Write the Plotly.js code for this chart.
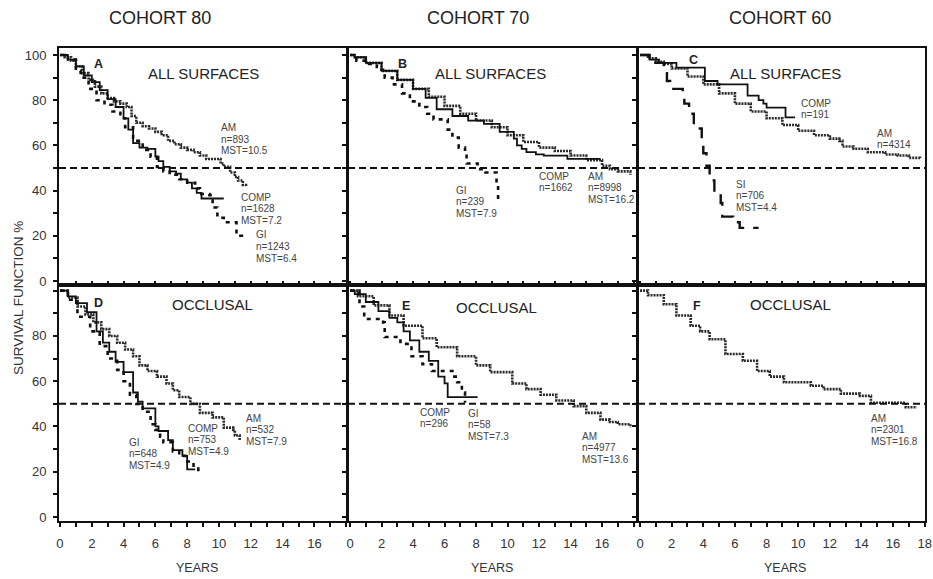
<!DOCTYPE html>
<html>
<head>
<meta charset="utf-8">
<script src="https://cdn.plot.ly/plotly-3.0.1.min.js"></script>
<style>html,body{margin:0;padding:0;background:#fff;}#chart{width:933px;height:579px;}</style>
</head>
<body>
<div id="chart"></div>
<script>
// ---------- data ----------
// Panel A: cohort 80, all surfaces
var amA_x   = [0, 0.3, 0.7, 1.0, 1.4, 1.8, 2.2, 2.6, 3.0, 3.4, 3.8, 4.2, 4.5, 4.8, 5.2, 5.6, 6.0, 6.4, 6.8, 7.2, 7.6, 8.0, 8.4, 8.8, 9.2, 10.1, 10.3, 10.7, 11.0, 11.2, 11.5, 11.7];
var amA_y   = [100, 99, 97.5, 95, 92, 89, 86, 83, 81, 79.5, 78.5, 77, 73, 70, 68.5, 67.5, 66, 64.5, 62, 60.5, 59, 58, 57, 55.5, 54, 52, 50.5, 48, 46, 44.5, 42.5, 42];
var compA_x = [0, 0.5, 1.0, 1.5, 2.0, 2.5, 3.0, 3.5, 4.0, 4.3, 4.6, 5.0, 5.5, 6.0, 6.2, 6.5, 6.9, 7.3, 7.6, 8.0, 8.3, 8.6, 8.9, 10.3];
var compA_y = [100, 98, 95, 91, 88, 84.5, 80.5, 77, 72, 67, 61, 59, 58.5, 55, 53, 50.5, 48.5, 47.5, 45, 43.5, 41, 39, 36.5, 36.5];
var giA_x   = [0, 0.5, 1.0, 1.3, 1.8, 2.3, 2.8, 3.3, 3.8, 4.1, 4.6, 5.2, 5.7, 6.1, 6.5, 6.9, 7.5, 8.0, 8.5, 8.8, 9.4, 9.6, 9.9, 10.3, 11.0, 11.1, 11.7];
var giA_y   = [100, 98, 93, 90, 85, 80, 78, 75, 72, 68, 62, 58, 55, 50.5, 48.5, 47, 45, 43.5, 41, 38.5, 38, 32.5, 28, 26, 26, 20, 19.5];
// Panel B: cohort 70, all surfaces
var amB_x   = [0, 0.3, 1, 2, 3, 4, 5, 6, 7, 8, 9, 10, 11, 12, 13, 14, 15, 16, 16.5, 17, 17.8];
var amB_y   = [100, 99, 96.5, 93, 89, 85, 81.5, 77.5, 74, 71, 68, 64.5, 61.5, 59, 57.5, 55.5, 53.5, 51, 49.5, 48.5, 47];
var compB_x = [0, 0.3, 1, 2, 3, 4, 4.8, 5.5, 6.5, 7.5, 8.5, 9.5, 10.4, 10.6, 10.9, 11.2, 11.8, 12.3, 13.5, 13.8, 15.9];
var compB_y = [100, 99, 96.5, 93, 89, 85, 81, 76, 73, 71, 69.5, 66, 63, 60, 58.5, 57, 56, 55.5, 55.5, 54, 54];
var giB_x   = [0, 0.4, 1.0, 1.7, 2.2, 2.7, 3.3, 3.8, 4.4, 4.9, 5.3, 6.2, 6.5, 6.9, 7.3, 7.4, 8.1, 8.6, 9.3, 9.4];
var giB_y   = [100, 97.5, 96, 93.5, 90, 87, 83, 79.5, 77, 74, 71.5, 67, 63.5, 59, 57, 52, 49.5, 48, 41.5, 36];
// Panel C: cohort 60, all surfaces
var amC_x   = [0, 0.5, 1, 1.5, 2, 3, 4, 5, 6, 7, 8, 9, 10, 11, 12, 12.6, 12.8, 13.5, 14.4, 15.5, 16.3, 17, 17.7];
var amC_y   = [100, 98.5, 97, 96, 94, 90.5, 87, 83, 78.5, 75, 72, 69, 66.5, 64.5, 63, 62, 59.5, 58.5, 57, 56, 55.5, 54.5, 54];
var compC_x = [0, 0.6, 1.2, 2.3, 4.1, 4.9, 6.8, 7.5, 7.8, 8.0, 9.2, 9.8];
var compC_y = [100, 98, 96.5, 94.4, 88.5, 87, 82, 80, 78.5, 76.7, 72.4, 72.4];
var siC_x   = [0, 0.6, 1.5, 1.7, 1.9, 2.7, 2.8, 3.1, 3.4, 3.9, 4.0, 4.2, 4.4, 4.7, 5.1, 5.2, 5.9, 6.3, 7.5];
var siC_y   = [100, 96.5, 92, 88.5, 85, 82, 78.5, 74, 67.5, 62, 56.5, 51, 44.5, 39, 34.5, 28.5, 26, 23.5, 23.5];
// Panel D: cohort 80, occlusal
var amD_x   = [0, 0.5, 1.1, 1.6, 2.1, 2.6, 3.1, 3.6, 4.1, 4.6, 5.0, 5.5, 6.1, 6.7, 7.1, 7.5, 8.2, 8.8, 9.6, 10.2, 10.3, 10.9, 11.0, 11.3];
var amD_y   = [100, 97, 93, 89.5, 86, 83, 80, 77, 74, 71, 67, 64.5, 62, 59, 56, 53, 50, 46, 44, 44, 39.5, 38.5, 36, 34];
var compD_x = [0, 0.5, 1.0, 1.7, 2.3, 2.7, 3.1, 3.5, 4.0, 4.6, 4.9, 5.2, 6.0, 6.2, 6.8, 7.1, 7.7, 8.0, 8.5];
var compD_y = [100, 97.5, 94.5, 90.5, 82, 77, 73, 68.5, 64, 55, 51, 48, 40, 38, 34, 29.5, 27, 21, 21];
var giD_x   = [0, 0.5, 1.1, 1.9, 2.5, 3.0, 3.6, 4.0, 4.4, 4.8, 5.2, 5.7, 6.0, 6.3, 6.5, 7.1, 7.5, 8.0, 8.4, 8.7];
var giD_y   = [100, 96, 88.5, 82, 75.5, 70, 65, 60, 54, 50, 46.5, 41, 38.5, 35.5, 33, 29, 27, 24.5, 22, 20];
// Panel E: cohort 70, occlusal
var amE_x   = [0, 0.5, 1.5, 2.5, 3.4, 4.6, 5.5, 6.8, 8, 8.9, 10.3, 11.2, 12.1, 13.1, 14.2, 15, 15.9, 16.5, 17, 17.8];
var amE_y   = [100, 97.5, 93.5, 89, 84.5, 79, 75, 71, 67, 64, 59, 56.5, 54, 51.5, 49, 46, 43, 42, 41, 39.5];
var compE_x = [0, 0.3, 1, 1.8, 2.5, 3.0, 3.4, 3.8, 4.4, 5.0, 5.6, 6.0, 6.2, 8.1];
var compE_y = [100, 98.5, 95, 91, 88, 86, 82, 78, 73, 69, 62, 59, 53, 53];
var giE_x   = [0, 0.6, 0.9, 2.1, 2.2, 3.2, 3.9, 4.6, 5.2, 6.2, 6.5, 6.8, 7.1, 7.3];
var giE_y   = [100, 93, 87.5, 86, 79.5, 76.5, 71, 67.5, 64.5, 64.5, 62, 59.5, 55, 50.5];
// Panel F: cohort 60, occlusal
var amF_x   = [0, 0.5, 1.5, 2.3, 3.2, 3.8, 4.4, 5.4, 6.5, 7.4, 8.2, 9.1, 10.8, 11.6, 12.7, 13.9, 14.6, 16.6, 16.8, 17.5];
var amF_y   = [100, 98, 94, 89, 84.5, 82, 78.5, 72, 69, 64.5, 62, 59.5, 58, 56.5, 54.5, 53.5, 50.5, 50.5, 48.5, 48.5];

var medianLevel = 50;
var cohortTitles = ["COHORT 80", "COHORT 70", "COHORT 60"];
var panelLetters = ["A", "B", "C", "D", "E", "F"];
var panelNames = ["ALL SURFACES", "ALL SURFACES", "ALL SURFACES", "OCCLUSAL", "OCCLUSAL", "OCCLUSAL"];
var labelsA = [["AM", "n=893", "MST=10.5"], ["COMP", "n=1628", "MST=7.2"], ["GI", "n=1243", "MST=6.4"]];
var labelsB = [["GI", "n=239", "MST=7.9"], ["COMP", "n=1662"], ["AM", "n=8998", "MST=16.2"]];
var labelsC = [["COMP", "n=191"], ["AM", "n=4314"], ["SI", "n=706", "MST=4.4"]];
var labelsD = [["GI", "n=648", "MST=4.9"], ["COMP", "n=753", "MST=4.9"], ["AM", "n=532", "MST=7.9"]];
var labelsE = [["COMP", "n=296"], ["GI", "n=58", "MST=7.3"], ["AM", "n=4977", "MST=13.6"]];
var labelsF = [["AM", "n=2301", "MST=16.8"]];
var yTicksTop = [0, 20, 40, 60, 80, 100];
var yTicksBottom = [0, 20, 40, 60, 80];
var xTicks16 = [0, 2, 4, 6, 8, 10, 12, 14, 16];
var xTicks18 = [0, 2, 4, 6, 8, 10, 12, 14, 16, 18];
var xTitle = "YEARS";
var yTitle = "SURVIVAL FUNCTION %";

// ---------- styles ----------
var FONT = "Liberation Sans, Arial, sans-serif";
var styleAM   = {color: "#2a2a2a", width: 2.6, dash: "2px,1px", shape: "hv"};
var styleCOMP = {color: "#111", width: 1.8, dash: "solid", shape: "hv"};
var styleGI   = {color: "#111", width: 2.6, dash: "4px,5px", shape: "hv"};
var styleSI   = {color: "#111", width: 2.4, dash: "13px,9px", shape: "hv"};

function tr(x, y, ax, line) {
  return {x: x, y: y, xaxis: "x" + ax, yaxis: "y" + ax, type: "scatter", mode: "lines",
          line: line, hoverinfo: "skip", showlegend: false};
}
var traces = [
  tr(amA_x, amA_y, "", styleAM), tr(compA_x, compA_y, "", styleCOMP), tr(giA_x, giA_y, "", styleGI),
  tr(amB_x, amB_y, "2", styleAM), tr(compB_x, compB_y, "2", styleCOMP), tr(giB_x, giB_y, "2", styleGI),
  tr(amC_x, amC_y, "3", styleAM), tr(compC_x, compC_y, "3", styleCOMP), tr(siC_x, siC_y, "3", styleSI),
  tr(amD_x, amD_y, "4", styleAM), tr(compD_x, compD_y, "4", styleCOMP), tr(giD_x, giD_y, "4", styleGI),
  tr(amE_x, amE_y, "5", styleAM), tr(compE_x, compE_y, "5", styleCOMP), tr(giE_x, giE_y, "5", styleGI),
  tr(amF_x, amF_y, "6", styleAM)
];

var W = 933, H = 579;
function fx(a, b) { return [a / W, b / W]; }
function fy(top, bottom) { return [1 - bottom / H, 1 - top / H]; }
var colDom = [fx(59, 347), fx(348, 637), fx(638, 925)];
var xRanges = [[-0.06, 18.05], [-0.13, 18.22], [-0.13, 18.02]];
var rowDom = [fy(48, 285), fy(285, 521)];
var yRanges = [[-1.77, 103.1], [-1.77, 102.5]];

var layout = {
  width: W, height: H, margin: {l: 0, r: 0, t: 0, b: 0},
  paper_bgcolor: "#fff", plot_bgcolor: "#fff",
  font: {family: FONT, color: "#333", size: 13},
  showlegend: false,
  shapes: [], annotations: []
};
var axNames = ["", "2", "3", "4", "5", "6"];
for (var i = 0; i < 6; i++) {
  var col = i % 3, row = i < 3 ? 0 : 1;
  var n = axNames[i];
  var xa = {
    domain: colDom[col], range: xRanges[col], anchor: "y" + n,
    showline: true, linecolor: "#111", linewidth: 2, mirror: true,
    showgrid: false, zeroline: false, fixedrange: true,
    ticks: row === 0 ? "inside" : "outside", ticklen: 4, tickwidth: 2, tickcolor: "#111",
    tickmode: "array", tickvals: col === 2 ? xTicks18 : xTicks16,
    minor: {dtick: 1, tick0: 0, ticks: row === 0 ? "inside" : "outside", ticklen: 4, tickwidth: 2, tickcolor: "#111"},
    showticklabels: row === 1, ticklabelstandoff: 5,
    tickfont: {family: FONT, size: 13, color: "#333"}
  };
  var ya = {
    domain: rowDom[row], range: yRanges[row], anchor: "x" + n,
    showline: true, linecolor: "#111", linewidth: 2, mirror: true,
    showgrid: false, zeroline: false, fixedrange: true,
    ticks: "outside", ticklen: 4, tickwidth: 2, tickcolor: "#111",
    tickmode: "array", tickvals: row === 0 ? yTicksTop : yTicksBottom,
    minor: {dtick: 10, tick0: 0, ticks: "outside", ticklen: 4, tickwidth: 2, tickcolor: "#111"},
    showticklabels: col === 0, ticklabelstandoff: 4,
    tickfont: {family: FONT, size: 13, color: "#333"}
  };
  layout["xaxis" + n] = xa;
  layout["yaxis" + n] = ya;
  layout.shapes.push({type: "line", xref: "x" + n + " domain", yref: "y" + n, x0: 0, x1: 1,
    y0: medianLevel, y1: medianLevel, line: {color: "#111", width: 2, dash: "7px,4px"}});
}

// multi-line curve labels: one annotation per line, at pixel positions (left, centre of first line)
var LINE_GAP = 11.6;
function block(left, firstCentre, lines) {
  for (var k = 0; k < lines.length; k++) {
    layout.annotations.push({xref: "paper", yref: "paper", x: left / W, y: 1 - (firstCentre + k * LINE_GAP) / H,
      text: lines[k], showarrow: false, xanchor: "left", yanchor: "middle", align: "left",
      borderpad: 0, font: {family: FONT, size: 10, color: "#444"}});
  }
}
function label(ax, x, y, text, size, bold) {
  layout.annotations.push({xref: "x" + ax, yref: "y" + ax, x: x, y: y, text: bold ? "<b>" + text + "</b>" : text,
    showarrow: false, xanchor: "center", yanchor: "middle",
    font: {family: FONT, size: size, color: "#222"}});
}
var letterPos = [[2.45, 96], [3.3, 96], [3.35, 98], [2.45, 94.6], [3.55, 93.3], [3.6, 93.3]];
var namePos = [[9.0, 91.6], [8.9, 91.6], [9.2, 91.6], [9.6, 93.7], [9.3, 92.4], [9.5, 93.7]];
for (var j = 0; j < 6; j++) {
  label(axNames[j], letterPos[j][0], letterPos[j][1], panelLetters[j], 12.5, true);
  label(axNames[j], namePos[j][0], namePos[j][1], panelNames[j], 15, false);
}
block(220, 127.5, labelsA[0]); block(240, 197, labelsA[1]); block(255, 235, labelsA[2]);
block(455, 190, labelsB[0]); block(538, 176, labelsB[1]); block(587, 176, labelsB[2]);
block(800, 103, labelsC[0]); block(876, 133, labelsC[1]); block(735, 184, labelsC[2]);
block(128, 442, labelsD[0]); block(187, 428, labelsD[1]); block(245, 418, labelsD[2]);
block(419, 412, labelsE[0]); block(467, 413, labelsE[1]); block(581, 436, labelsE[2]);
block(870, 418, labelsF[0]);

var cohortX = [160, 478, 780];
for (var c = 0; c < 3; c++) {
  layout.annotations.push({xref: "paper", yref: "paper", x: cohortX[c] / W, y: 1 - 18 / H,
    text: cohortTitles[c], showarrow: false, xanchor: "center", yanchor: "middle",
    font: {family: FONT, size: 18, color: "#222"}});
}
var yearsX = [197, 492, 785];
for (var c2 = 0; c2 < 3; c2++) {
  layout.annotations.push({xref: "paper", yref: "paper", x: yearsX[c2] / W, y: 1 - 568 / H,
    text: xTitle, showarrow: false, xanchor: "center", yanchor: "middle",
    font: {family: FONT, size: 12.5, color: "#333"}});
}
layout.annotations.push({xref: "paper", yref: "paper", x: 18 / W, y: 1 - 298 / H,
  text: yTitle, showarrow: false, textangle: -90, xanchor: "center", yanchor: "middle",
  font: {family: FONT, size: 13.5, color: "#333"}});

Plotly.newPlot("chart", traces, layout, {displayModeBar: false, staticPlot: true});
</script>
</body>
</html>
